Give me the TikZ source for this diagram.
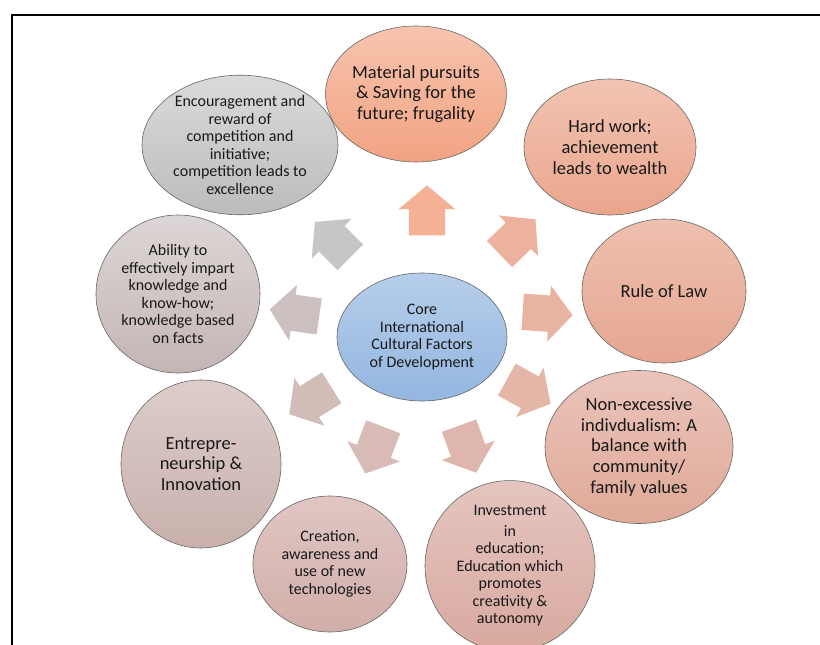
\documentclass[tikz,border=0pt]{standalone}
\usepackage{fontspec}
\setmainfont{Carlito}
\usepackage{tikz}
\usetikzlibrary{shapes.geometric,shapes.arrows}

\definecolor{matT}{HTML}{F7C4AE}
\definecolor{matB}{HTML}{F2A383}
\definecolor{hardT}{HTML}{F2C4B3}
\definecolor{hardB}{HTML}{EAA58C}
\definecolor{lawT}{HTML}{EFC0B0}
\definecolor{lawB}{HTML}{E5A691}
\definecolor{nonT}{HTML}{EBC4BA}
\definecolor{nonB}{HTML}{DFA998}
\definecolor{invT}{HTML}{E5C5C0}
\definecolor{invB}{HTML}{D8A99F}
\definecolor{creT}{HTML}{E0C6C3}
\definecolor{creB}{HTML}{D1AEA9}
\definecolor{entT}{HTML}{DCCDCB}
\definecolor{entB}{HTML}{C9B0AC}
\definecolor{abiT}{HTML}{DDD6D6}
\definecolor{abiB}{HTML}{C4B5B5}
\definecolor{encT}{HTML}{DADADA}
\definecolor{encB}{HTML}{BCBCBC}
\definecolor{coreT}{HTML}{B6CEEA}
\definecolor{coreB}{HTML}{94B6E0}

\begin{document}
\begin{tikzpicture}[
  x=1pt, y=-1pt,
  factor/.style={ellipse, draw=black!60, line width=0.6pt, inner sep=0pt, align=center, text=black!90},
  small/.style={font=\fontsize{16}{17.5}\selectfont},
  big/.style={font=\fontsize{18.5}{20.8}\selectfont},
  flow/.style={single arrow, draw=none, inner xsep=0pt, inner ysep=18pt, minimum height=50pt, minimum width=56pt,
    single arrow head extend=10pt, single arrow tip angle=100}
]
\useasboundingbox (0,0) rectangle (820,645);
\draw[line width=1.4pt] (12,645) -- (12,15) -- (820,15);

% the core
\node[factor, small, minimum width=170pt, minimum height=128pt, top color=coreT, bottom color=coreB] (core) at (422,337)
  {Core\\International\\Cultural Factors\\of Development};

% the factors, clockwise from the top
\node[factor, big, minimum width=172pt, minimum height=136pt, top color=matT, bottom color=matB] (material) at (416,94)
  {Material pursuits\\\& Saving for the\\future; frugality};
\node[factor, big, minimum width=172pt, minimum height=136pt, top color=hardT, bottom color=hardB] (hardwork) at (610,147)
  {Hard work;\\achievement\\leads to wealth};
\node[factor, big, minimum width=164pt, minimum height=144pt, top color=lawT, bottom color=lawB] (law) at (664,291)
  {Rule of Law};
\node[factor, big, minimum width=188pt, minimum height=153pt, top color=nonT, bottom color=nonB] (individual) at (639,447)
  {Non-excessive\\indivdualism: A\\balance with\\community/\\family values};
\node[factor, small, minimum width=170pt, minimum height=158pt, top color=invT, bottom color=invB] (education) at (510,566)
  {Investment\\[3pt]in\\education;\\Education which\\promotes\\creativity \&\\autonomy};
\node[factor, small, minimum width=154pt, minimum height=136pt, top color=creT, bottom color=creB] (technology) at (330,564)
  {Creation,\\awareness and\\use of new\\technologies};
\node[factor, big, minimum width=160pt, minimum height=168pt, top color=entT, bottom color=entB] (enterprise) at (201,464)
  {Entrepre-\\neurship \&\\Innovation};
\node[factor, small, minimum width=164pt, minimum height=158pt, top color=abiT, bottom color=abiB] (knowledge) at (178,294)
  {Ability to\\effectively impart\\knowledge and\\know-how;\\knowledge based\\on facts};
\node[factor, small, minimum width=196pt, minimum height=138pt, top color=encT, bottom color=encB] (competition) at (240,145)
  {Encouragement and\\reward of\\competition and\\initiative;\\competition leads to\\excellence};

% arrows out of the core
\node[flow, fill=matB!85, rotate=90] (toMaterial) at (427,218) {};
\node[flow, fill=hardB!85, rotate=44] (toHardwork) at (512,242) {};
\node[flow, fill=lawB!85, rotate=-4] (toLaw) at (540,313) {};
\node[flow, fill=nonB!85, rotate=-29] (toIndividual) at (522,388) {};
\node[flow, fill=invB!85, rotate=-70] (toEducation) at (465,442) {};
\node[flow, fill=creB!85, rotate=-111] (toTechnology) at (377,443) {};
\node[flow, fill=entB!85, rotate=-148] (toEnterprise) at (317,397) {};
\node[flow, fill=abiB!85, rotate=172] (toKnowledge) at (302,314) {};
\node[flow, fill=encB!85, rotate=135] (toCompetition) at (338,245) {};
\end{tikzpicture}
\end{document}
